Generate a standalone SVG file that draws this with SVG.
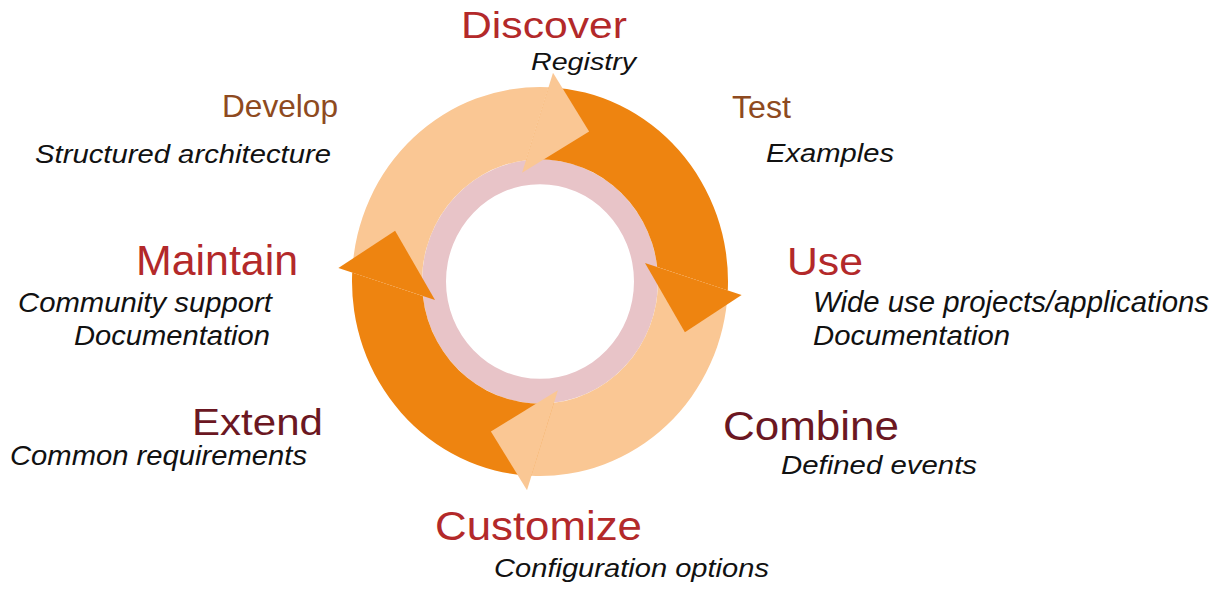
<svg xmlns="http://www.w3.org/2000/svg" width="1221" height="590" viewBox="0 0 1221 590">
  <style>
    .t { font-family: "Liberation Sans", Arial, sans-serif; }
    .red { fill: #B3292A; }
    .brown { fill: #8E4A20; }
    .maroon { fill: #6B1722; }
    .sub { font-family: "Liberation Sans", Arial, sans-serif; font-style: italic; fill: #111111; }
    .dark { fill: #EE8410; }
    .light { fill: #FAC794; }
  </style>
  <defs>
    <path id="body" d="M 8.6 -187.8 A 188 188 0 0 1 187.8 8.6 L 117.2 -14.0 A 118 118 0 0 0 -14.0 -117.2 Z"/>
    <path id="head" d="M 105 -17.9 L 201.6 13.0 L 144.9 49.1 Z"/>
  </defs>
  <rect width="1221" height="590" fill="#FFFFFF"/>

  <g id="connectors">
    <g id="cycle" transform="translate(540 281.5) scale(1 1.035)">
      <path id="inner-ring" fill="#E8C4C8" fill-rule="evenodd" d="M -118 0 A 118 118 0 1 0 118 0 A 118 118 0 1 0 -118 0 Z M -94 0 A 94 94 0 1 1 94 0 A 94 94 0 1 1 -94 0 Z"/>
      <use href="#body" class="dark"/>
      <use href="#body" class="light" transform="rotate(90)"/>
      <use href="#body" class="dark" transform="rotate(180)"/>
      <use href="#body" class="light" transform="rotate(270)"/>
      <use href="#head" class="dark"/>
      <use href="#head" class="light" transform="rotate(90)"/>
      <use href="#head" class="dark" transform="rotate(180)"/>
      <use href="#head" class="light" transform="rotate(270)"/>
    </g>
  </g>

  <g id="discover">
    <text class="t red" x="461" y="38" font-size="36" textLength="166" lengthAdjust="spacingAndGlyphs">Discover</text>
    <text class="sub" x="531" y="70" font-size="23" textLength="105" lengthAdjust="spacingAndGlyphs">Registry</text>
  </g>
  <g id="develop">
    <text class="t brown" x="222" y="117" font-size="32" textLength="116" lengthAdjust="spacingAndGlyphs">Develop</text>
    <text class="sub" x="35" y="163" font-size="25" textLength="296" lengthAdjust="spacingAndGlyphs">Structured architecture</text>
  </g>
  <g id="test">
    <text class="t brown" x="732" y="118" font-size="31" textLength="59" lengthAdjust="spacingAndGlyphs">Test</text>
    <text class="sub" x="766" y="162" font-size="25" textLength="128" lengthAdjust="spacingAndGlyphs">Examples</text>
  </g>
  <g id="maintain">
    <text class="t red" x="136" y="275" font-size="42" textLength="162" lengthAdjust="spacingAndGlyphs">Maintain</text>
    <text class="sub" x="18" y="311.5" font-size="28" textLength="254" lengthAdjust="spacingAndGlyphs">Community support</text>
    <text class="sub" x="74" y="345" font-size="27" textLength="196" lengthAdjust="spacingAndGlyphs">Documentation</text>
  </g>
  <g id="use">
    <text class="t red" x="787" y="275" font-size="39.5" textLength="76" lengthAdjust="spacingAndGlyphs">Use</text>
    <text class="sub" x="813" y="312" font-size="29" textLength="396" lengthAdjust="spacingAndGlyphs">Wide use projects/applications</text>
    <text class="sub" x="813" y="345" font-size="27" textLength="197" lengthAdjust="spacingAndGlyphs">Documentation</text>
  </g>
  <g id="extend">
    <text class="t maroon" x="192" y="435" font-size="37" textLength="131" lengthAdjust="spacingAndGlyphs">Extend</text>
    <text class="sub" x="10" y="465" font-size="28" textLength="297" lengthAdjust="spacingAndGlyphs">Common requirements</text>
  </g>
  <g id="combine">
    <text class="t maroon" x="723" y="440" font-size="40" textLength="176" lengthAdjust="spacingAndGlyphs">Combine</text>
    <text class="sub" x="781" y="474" font-size="26" textLength="196" lengthAdjust="spacingAndGlyphs">Defined events</text>
  </g>
  <g id="customize">
    <text class="t red" x="435" y="540" font-size="40" textLength="207" lengthAdjust="spacingAndGlyphs">Customize</text>
    <text class="sub" x="494" y="577" font-size="26" textLength="275" lengthAdjust="spacingAndGlyphs">Configuration options</text>
  </g>
</svg>
